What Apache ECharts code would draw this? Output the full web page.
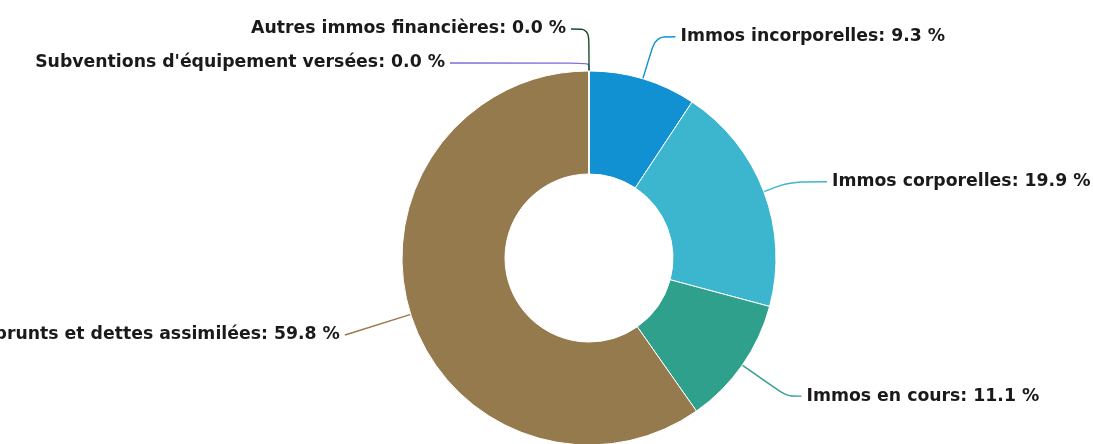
<!DOCTYPE html>
<html>
<head>
<meta charset="utf-8">
<script src="https://cdn.jsdelivr.net/npm/echarts@6/dist/echarts.min.js"></script>
<style>
  html, body { margin: 0; padding: 0; background: #fff; }
  #chart { width: 1093px; height: 444px; }
</style>
</head>
<body>
<div id="chart"></div>
<script>
// Répartition des immobilisations (en %)
const categories = [
    'Immos incorporelles',
    'Immos corporelles',
    'Immos en cours',
    'Emprunts et dettes assimilées',
    "Subventions d'équipement versées",
    'Autres immos financières'
];
const valeurs = [9.3, 19.9, 11.1, 59.8, 0.0, 0.0];
const couleurs = ['#1190d2', '#3cb5cf', '#2fa08c', '#957a4e', '#7a6fd0', '#1d4a2c'];
// longueur des traits de légende (radial, horizontal) par part
const traitRadial = [44, 28, 54, 68, 8, 42];
const traitHoriz = [20, 37, 15, 1, 139, 18];

const chart = echarts.init(document.getElementById('chart'));

const option = {
    animation: false,
    series: [{
        type: 'pie',
        center: [589, 258],
        radius: [84, 187],
        startAngle: 90,
        clockwise: true,
        avoidLabelOverlap: false,
        itemStyle: {
            borderColor: '#fff',
            borderWidth: 1
        },
        label: {
            color: '#1a1a1a',
            fontFamily: 'DejaVu Sans',
            fontWeight: 'bold',
            fontSize: 17.3,
            formatter: p => p.name + ': ' + p.value.toFixed(1) + ' %'
        },
        labelLine: {
            show: true,
            smooth: 0.3,
            lineStyle: { width: 1.4 }
        },
        data: categories.map((c, i) => ({
            name: c,
            value: valeurs[i],
            itemStyle: { color: couleurs[i] },
            labelLine: { length: traitRadial[i], length2: traitHoriz[i] }
        }))
    }]
};

chart.setOption(option);
</script>
</body>
</html>
